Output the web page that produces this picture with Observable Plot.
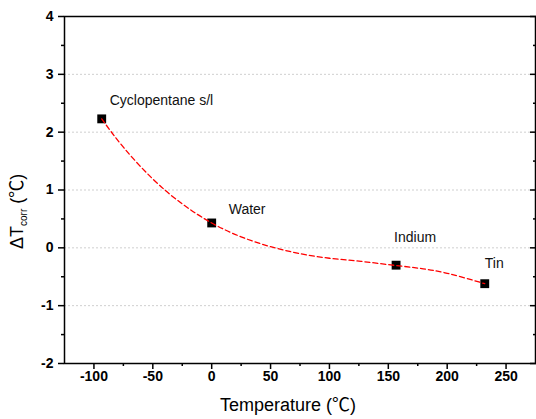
<!DOCTYPE html>
<html><head><meta charset="utf-8">
<script src="https://cdn.jsdelivr.net/npm/d3@7"></script>
<script src="https://cdn.jsdelivr.net/npm/@observablehq/plot@0.6"></script>
<style>body{margin:0;background:#fff;} svg{display:block}</style>
</head><body><div id="chart"></div>
<script>
const labels = ["Cyclopentane s/l", "Water", "Indium", "Tin"];
const tempX = [-93.4, 0, 156.6, 231.9];
const deltaY = [2.23, 0.43, -0.30, -0.62];
const fitX = [-93.4, -75, -50, -25, 0, 25, 50, 75, 100, 125, 150, 175, 200, 231.9];
const fitY = [2.23, 1.74, 1.19, 0.76, 0.43, 0.19, 0.02, -0.10, -0.18, -0.23, -0.29, -0.35, -0.44, -0.62];
const xTicks = [-100, -50, 0, 50, 100, 150, 200, 250];
const xMinor = [-75, -25, 25, 75, 125, 175, 225];
const yTicks = [-2, -1, 0, 1, 2, 3, 4];
const yMinor = [-1.5, -0.5, 0.5, 1.5, 2.5, 3.5];
const yGrid = [-1, 0, 1, 2, 3];

const points = labels.map((name, i) => ({name, x: tempX[i], y: deltaY[i]}));
const fit = fitX.map((x, i) => ({x, y: fitY[i]}));
const FONT = "'Liberation Sans', Arial, 'Noto Sans CJK SC', sans-serif";
const blank = () => "";
const plain = d => String(d);

const labelOffsets = [[8, -14], [17, -9], [-2, -23], [0, -16]];
const labelMarks = points.map((p, i) =>
  Plot.text([p], {x: "x", y: "y", text: "name", textAnchor: "start", lineAnchor: "bottom",
    dx: labelOffsets[i][0], dy: labelOffsets[i][1], fontSize: 14, fill: "#111"}));

const chart = Plot.plot({
  width: 536, height: 419,
  marginLeft: 64, marginRight: 1, marginTop: 16, marginBottom: 56,
  style: {fontFamily: FONT, color: "black", background: "white"},
  x: {domain: [-125, 275]},
  y: {domain: [-2, 4]},
  marks: [
    Plot.gridY(yGrid, {stroke: "#cfcfcf", strokeOpacity: 1, strokeDasharray: "2,2", strokeWidth: 1}),
    Plot.axisX(xTicks, {tickSize: 6, tickPadding: 2, fontSize: 14, fontWeight: "bold", strokeWidth: 1.5, tickFormat: plain, label: null}),
    Plot.axisX(xMinor, {tickSize: 3, tickFormat: blank, strokeWidth: 1.5, label: null}),
    Plot.axisY(yTicks, {anchor: "left", tickSize: 6, tickPadding: 5, fontSize: 14, fontWeight: "bold", strokeWidth: 1.5, tickFormat: plain, label: null}),
    Plot.axisY(yMinor, {anchor: "left", tickSize: 3, tickFormat: blank, strokeWidth: 1.5, label: null}),
    Plot.axisY(yTicks, {anchor: "right", tickSize: -6, tickFormat: blank, strokeWidth: 1.5, label: null}),
    Plot.axisY(yMinor, {anchor: "right", tickSize: -3, tickFormat: blank, strokeWidth: 1.5, label: null}),
    Plot.dot(points, {x: "x", y: "y", symbol: "square", r: 5, fill: "black", stroke: "none"}),
    Plot.line(fit, {x: "x", y: "y", curve: "natural", stroke: "#ff0000", strokeWidth: 1.3, strokeDasharray: "5,3"}),
    ...labelMarks,
    Plot.frame({stroke: "black", strokeWidth: 1.5})
  ]
});

const svg = d3.select(chart);
svg.append("text")
  .attr("x", 288).attr("y", 411)
  .attr("text-anchor", "middle")
  .attr("font-size", 18).attr("font-family", FONT).attr("fill", "black")
  .text("Temperature (℃)");
const yl = svg.append("text")
  .attr("transform", "translate(23,249) rotate(-90)")
  .attr("text-anchor", "start")
  .attr("font-size", 18).attr("font-family", FONT).attr("fill", "black");
yl.append("tspan").text("ΔT");
yl.append("tspan").attr("font-size", 10).attr("dy", 4).text("corr");
yl.append("tspan").attr("dy", -4).text(" (℃)");

document.getElementById("chart").appendChild(chart);
</script>
</body></html>
